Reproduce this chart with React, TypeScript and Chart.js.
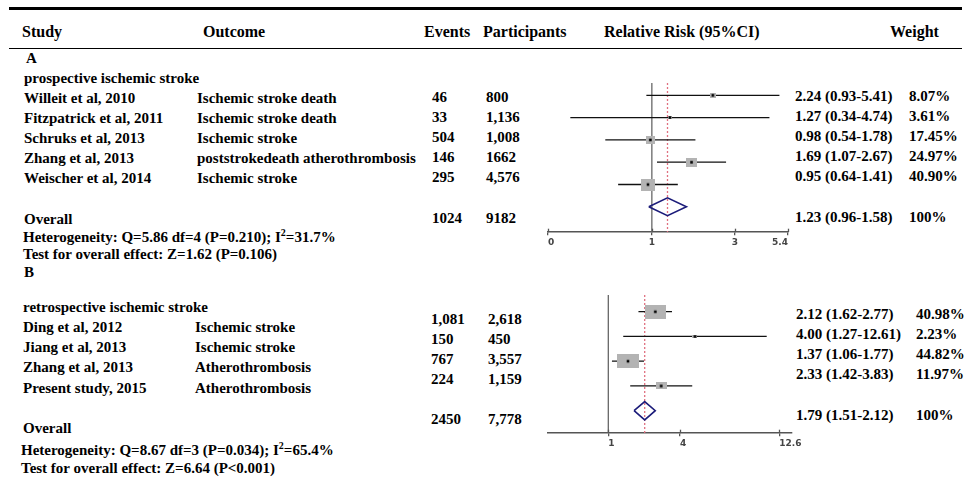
import React, { useEffect, useRef } from "react";
import { Chart, registerables } from "chart.js";

Chart.register(...registerables);

// ---------- DATA : panel A ----------
const STUDIES_A = ["Willeit et al, 2010", "Fitzpatrick et al, 2011", "Schruks et al, 2013", "Zhang et al, 2013", "Weischer et al, 2014"];
const OUTCOMES_A = ["Ischemic stroke death", "Ischemic stroke death", "Ischemic stroke", "poststrokedeath atherothrombosis", "Ischemic stroke"];
const EVENTS_A = ["46", "33", "504", "146", "295"];
const PARTICIPANTS_A = ["800", "1,136", "1,008", "1662", "4,576"];
const RR_A = [2.24, 1.27, 0.98, 1.69, 0.95];
const LO_A = [0.93, 0.34, 0.54, 1.07, 0.64];
const HI_A = [5.41, 4.74, 1.78, 2.67, 1.41];
const WEIGHT_A = [8.07, 3.61, 17.45, 24.97, 40.9];
const OVERALL_A = { rr: 1.23, lo: 0.96, hi: 1.58, events: "1024", participants: "9182", weight: "100%" };
const HET_A = { q: "5.86", df: "4", p: "0.210", i2: "31.7" };
const TEST_A = { z: "1.62", p: "(P=0.106)" };
const AXIS_A_MIN = 0.253;
const AXIS_A_MAX = 6.06;
const TICK_VALUES_A = [AXIS_A_MIN, 1, 3, AXIS_A_MAX];
const TICK_LABELS_A = ["0", "1", "3", "5.4"];

// ---------- DATA : panel B ----------
const STUDIES_B = ["Ding et al, 2012", "Jiang et al, 2013", "Zhang et al, 2013", "Present study, 2015"];
const OUTCOMES_B = ["Ischemic stroke", "Ischemic stroke", "Atherothrombosis", "Atherothrombosis"];
const EVENTS_B = ["1,081", "150", "767", "224"];
const PARTICIPANTS_B = ["2,618", "450", "3,557", "1,159"];
const RR_B = [2.12, 4.0, 1.37, 2.33];
const LO_B = [1.62, 1.27, 1.06, 1.42];
const HI_B = [2.77, 12.61, 1.77, 3.83];
const WEIGHT_B = [40.98, 2.23, 44.82, 11.97];
const OVERALL_B = { rr: 1.79, lo: 1.51, hi: 2.12, events: "2450", participants: "7,778", weight: "100%" };
const HET_B = { q: "8.67", df: "3", p: "0.034", i2: "65.4" };
const TEST_B = { z: "6.64", p: "(P<0.001)" };
const AXIS_B_MIN = 0.381;
const AXIS_B_MAX = 18.9;
const TICK_VALUES_B = [1, 3.15, 15.4];
const TICK_LABELS_B = ["1", "4", "12.6"];

// ---------- styles ----------
const BOX_COLOR = "#b3b3b3";
const NAVY = "#1c1c7a";
const RED = "rgb(224,112,128)";
const AXIS_COLOR = "#555555";
const SERIF = '"Liberation Serif", "Times New Roman", serif';

function makeBox(w: number, h: number) {
  const c = document.createElement("canvas");
  c.width = Math.max(3, Math.round(w));
  c.height = Math.max(3, Math.round(h));
  const g = c.getContext("2d")!;
  g.fillStyle = BOX_COLOR;
  g.fillRect(0, 0, c.width, c.height);
  g.fillStyle = "#000";
  const d = 2.6;
  g.fillRect((c.width - d) / 2, (c.height - d) / 2, d, d);
  return c;
}

const tickCross = {
  id: "tickCross",
  afterDraw(chart: any) {
    const s = chart.scales.x;
    const ctx = chart.ctx;
    const y = chart.chartArea.bottom;
    ctx.save();
    ctx.strokeStyle = AXIS_COLOR;
    ctx.lineWidth = 1.3;
    s.ticks.forEach((t: any) => {
      const px = Math.round(s.getPixelForValue(t.value)) + 0.5;
      ctx.beginPath();
      ctx.moveTo(px, y - 3.5);
      ctx.lineTo(px, y);
      ctx.stroke();
    });
    ctx.restore();
  },
};

type ForestCfg = {
  rr: number[]; lo: number[]; hi: number[]; weights: number[];
  overall: { rr: number; lo: number; hi: number };
  yMin: number; yMax: number; xMin: number; xMax: number;
  tickValues: number[]; tickLabels: string[];
  boxScale: number; boxAspect: number; diamondHalf: number;
  tickAlign: "inner" | "start" | "center";
  padLeft: number; padRight: number;
};

function buildForest(canvas: HTMLCanvasElement, cfg: ForestCfg) {
  const n = cfg.rr.length;
  const boxes = cfg.weights.map((w) => makeBox(cfg.boxScale * Math.sqrt(w), cfg.boxScale * Math.sqrt(w) * cfg.boxAspect));
  const datasets: any[] = [];
  datasets.push({
    data: cfg.rr.map((v, i) => ({ x: v, y: i })),
    pointStyle: (ctx: any) => boxes[ctx.dataIndex],
    pointRadius: 5,
    showLine: false,
    order: 0,
  });
  const o = cfg.overall;
  datasets.push({
    data: [
      { x: o.lo, y: n },
      { x: o.rr, y: n - cfg.diamondHalf },
      { x: o.hi, y: n },
      { x: o.rr, y: n + cfg.diamondHalf },
      { x: o.lo, y: n },
    ],
    showLine: true,
    borderColor: NAVY,
    borderWidth: 1.6,
    borderJoinStyle: "miter",
    pointRadius: 0,
    fill: false,
    order: 1,
  });
  cfg.rr.forEach((_, i) => {
    datasets.push({
      data: [{ x: cfg.lo[i], y: i }, { x: cfg.hi[i], y: i }],
      showLine: true,
      borderColor: "#111",
      borderWidth: 1.3,
      pointRadius: 0,
      order: 2,
    });
  });
  datasets.push({
    data: [{ x: o.rr, y: cfg.yMin }, { x: o.rr, y: cfg.yMax }],
    showLine: true,
    borderColor: RED,
    borderWidth: 1.3,
    borderDash: [2, 2],
    pointRadius: 0,
    order: 3,
  });
  datasets.push({
    data: [{ x: 1, y: cfg.yMin }, { x: 1, y: cfg.yMax }],
    showLine: true,
    borderColor: "#666",
    borderWidth: 1.3,
    pointRadius: 0,
    order: 4,
  });

  return new Chart(canvas, {
    type: "scatter",
    data: { datasets },
    plugins: [tickCross],
    options: {
      responsive: false,
      animation: false,
      events: [],
      layout: { autoPadding: false, padding: { left: cfg.padLeft, right: cfg.padRight, top: 0, bottom: 0 } },
      plugins: { legend: { display: false }, tooltip: { enabled: false } },
      scales: {
        x: {
          type: "logarithmic",
          min: cfg.xMin,
          max: cfg.xMax,
          bounds: "data",
          afterBuildTicks: (s: any) => {
            s.ticks = cfg.tickValues.map((v) => ({ value: v, major: false }));
          },
          afterFit: (s: any) => {
            s.paddingLeft = 0;
            s.paddingRight = 0;
          },
          ticks: {
            autoSkip: false,
            maxRotation: 0,
            minRotation: 0,
            align: cfg.tickAlign,
            padding: 2,
            color: "#444",
            font: { family: '"DejaVu Sans", Verdana, sans-serif', size: 9, weight: "bold" },
            callback: (_v: any, i: number) => cfg.tickLabels[i],
          },
          grid: { display: true, drawOnChartArea: false, drawTicks: true, tickLength: 3, color: AXIS_COLOR, lineWidth: 1.3 },
          border: { display: true, color: AXIS_COLOR, width: 1.5 },
        },
        y: {
          type: "linear",
          reverse: true,
          min: cfg.yMin,
          max: cfg.yMax,
          display: false,
        },
      },
    } as any,
  });
}

function T({ x, y, s = 15, children }: { x: number; y: number; s?: number; children: any }) {
  const lh = Math.round(s * 1.2);
  return (
    <div style={{ position: "absolute", left: x, top: y - 0.63 * s, fontSize: s, lineHeight: `${lh}px`, whiteSpace: "nowrap" }}>
      {children}
    </div>
  );
}

function Sup({ children }: { children: any }) {
  return <span style={{ fontSize: 10, position: "relative", top: -6, lineHeight: 0 }}>{children}</span>;
}

const fmtRR = (v: number, lo: number, hi: number) => `${v.toFixed(2)} (${lo.toFixed(2)}-${hi.toFixed(2)})`;
const fmtW = (w: number) => `${w.toFixed(2)}%`;

export default function App() {
  const refA = useRef<HTMLCanvasElement>(null);
  const refB = useRef<HTMLCanvasElement>(null);

  useEffect(() => {
    const a = buildForest(refA.current!, {
      rr: RR_A, lo: LO_A, hi: HI_A, weights: WEIGHT_A, overall: OVERALL_A,
      yMin: -0.552, yMax: 6.139, xMin: AXIS_A_MIN, xMax: AXIS_A_MAX,
      tickValues: TICK_VALUES_A, tickLabels: TICK_LABELS_A,
      boxScale: 2.2, boxAspect: 0.82, diamondHalf: 0.4, tickAlign: "inner",
      padLeft: 4, padRight: 4,
    });
    const b = buildForest(refB.current!, {
      rr: RR_B, lo: LO_B, hi: HI_B, weights: WEIGHT_B, overall: OVERALL_B,
      yMin: -0.675, yMax: 4.909, xMin: AXIS_B_MIN, xMax: AXIS_B_MAX,
      tickValues: TICK_VALUES_B, tickLabels: TICK_LABELS_B,
      boxScale: 3.3, boxAspect: 0.64, diamondHalf: 0.37, tickAlign: "start",
      padLeft: 4, padRight: 14,
    });
    return () => {
      a.destroy();
      b.destroy();
    };
  }, []);

  const colA = { study: 24, outcome: 197, events: 432, part: 486, rr: 795, w: 909 };
  const colB = { study: 23, outcome: 195, events: 431, part: 488, rr: 796, w: 916 };

  return (
    <div
      style={{
        position: "absolute", left: 0, top: 0, width: 965, height: 483, background: "#fff",
        fontFamily: SERIF, fontWeight: 700, color: "#000", overflow: "hidden",
      }}
    >
      {/* rules */}
      <div style={{ position: "absolute", left: 9, top: 7, width: 953, height: 2.5, background: "#000" }} />
      <div style={{ position: "absolute", left: 9, top: 48, width: 953, height: 1.3, background: "#000" }} />

      {/* header */}
      <T x={22} y={32} s={16}>Study</T>
      <T x={203} y={32} s={16}>Outcome</T>
      <T x={424} y={32} s={16}>Events</T>
      <T x={483} y={32} s={16}>Participants</T>
      <T x={604} y={32} s={16}>Relative Risk (95%CI)</T>
      <T x={890} y={32} s={16}>Weight</T>

      {/* panel A */}
      <T x={26} y={58}>A</T>
      <T x={24} y={78}>prospective ischemic stroke</T>
      {STUDIES_A.map((s, i) => (
        <React.Fragment key={"a" + i}>
          <T x={colA.study} y={98 + 20 * i}>{s}</T>
          <T x={colA.outcome} y={98 + 20 * i}>{OUTCOMES_A[i]}</T>
          <T x={colA.events} y={97 + 20 * i}>{EVENTS_A[i]}</T>
          <T x={colA.part} y={97 + 20 * i}>{PARTICIPANTS_A[i]}</T>
          <T x={colA.rr} y={96.5 + 20 * i}>{fmtRR(RR_A[i], LO_A[i], HI_A[i])}</T>
          <T x={colA.w} y={96.5 + 20 * i}>{fmtW(WEIGHT_A[i])}</T>
        </React.Fragment>
      ))}
      <T x={colA.study} y={219}>Overall</T>
      <T x={colA.events} y={218}>{OVERALL_A.events}</T>
      <T x={colA.part} y={218}>{OVERALL_A.participants}</T>
      <T x={colA.rr} y={217}>{fmtRR(OVERALL_A.rr, OVERALL_A.lo, OVERALL_A.hi)}</T>
      <T x={colA.w} y={217}>{OVERALL_A.weight}</T>
      <T x={23} y={237}>
        Heterogeneity: Q={HET_A.q} df={HET_A.df} (P={HET_A.p}); I<Sup>2</Sup>={HET_A.i2}%
      </T>
      <T x={23} y={254}>Test for overall effect: Z={TEST_A.z} {TEST_A.p}</T>

      {/* panel B */}
      <T x={24} y={272}>B</T>
      <T x={23} y={307}>retrospective ischemic stroke</T>
      {STUDIES_B.map((s, i) => (
        <React.Fragment key={"b" + i}>
          <T x={colB.study} y={327.5 + 20.2 * i}>{s}</T>
          <T x={colB.outcome} y={327.5 + 20.2 * i}>{OUTCOMES_B[i]}</T>
          <T x={colB.events} y={319.3 + 20 * i}>{EVENTS_B[i]}</T>
          <T x={colB.part} y={319.3 + 20 * i}>{PARTICIPANTS_B[i]}</T>
          <T x={colB.rr} y={314.3 + 20.1 * i}>{fmtRR(RR_B[i], LO_B[i], HI_B[i])}</T>
          <T x={colB.w} y={314.3 + 20.1 * i}>{fmtW(WEIGHT_B[i])}</T>
        </React.Fragment>
      ))}
      <T x={colB.study} y={428}>Overall</T>
      <T x={colB.events} y={419.3}>{OVERALL_B.events}</T>
      <T x={colB.part} y={419.3}>{OVERALL_B.participants}</T>
      <T x={colB.rr} y={415}>{fmtRR(OVERALL_B.rr, OVERALL_B.lo, OVERALL_B.hi)}</T>
      <T x={colB.w} y={415}>{OVERALL_B.weight}</T>
      <T x={21} y={450}>
        Heterogeneity: Q={HET_B.q} df={HET_B.df} (P={HET_B.p}); I<Sup>2</Sup>={HET_B.i2}%
      </T>
      <T x={21} y={468}>Test for overall effect: Z={TEST_B.z} {TEST_B.p}</T>

      {/* plots */}
      <canvas ref={refA} width={248} height={167} style={{ position: "absolute", left: 544, top: 83, width: 248, height: 167 }} />
      <canvas ref={refB} width={262} height={156} style={{ position: "absolute", left: 544, top: 295, width: 262, height: 156 }} />
    </div>
  );
}
